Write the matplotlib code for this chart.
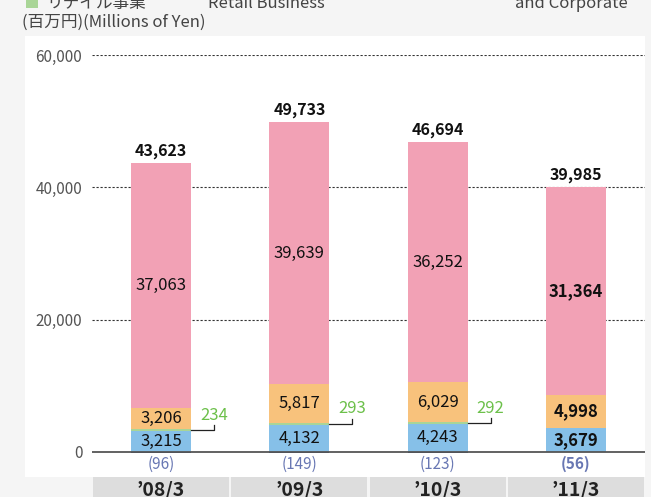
import numpy as np
import matplotlib
matplotlib.use('Agg')
import matplotlib.pyplot as plt
from matplotlib.patches import Rectangle

plt.rcParams['font.family'] = ['Noto Sans CJK JP', 'DejaVu Sans']

# данные
years = ["’08/3", "’09/3", "’10/3", "’11/3"]
adjust = [-96, -149, -123, -56]          # корректировки (отрицательные)
retail = [3215, 4132, 4243, 3679]        # синий
other = [234, 293, 292, 0]               # зелёный
finance = [3206, 5817, 6029, 4998]       # оранжевый
main_biz = [37063, 39639, 36252, 31364]  # розовый
totals = [43623, 49733, 46694, 39985]

W, H = 651, 497
fig = plt.figure(figsize=(W / 100, H / 100), dpi=100)
fig.patch.set_facecolor('#f5f5f5')

def fx(px):
    return px / W

def fy(py):
    return 1 - py / H

# белая панель
fig.patches.append(Rectangle((fx(25), fy(477)), fx(645) - fx(25), fy(36) - fy(477),
                             transform=fig.transFigure, facecolor='white', edgecolor='none', zorder=-10))

ax = fig.add_axes([fx(92), fy(477), fx(645) - fx(92), fy(55) - fy(477)])
ax.set_facecolor('none')
ax.set_xlim(-0.5, 3.5)
ax.set_ylim(-3788, 60000)

x = np.arange(len(years))
bw = 0.434
c_neg, c_blue, c_green, c_orange, c_pink = '#34487a', '#86c0e8', '#a9d597', '#f8c27c', '#f2a1b5'

for v in [20000, 40000, 60000]:
    ax.axhline(v, color='#333333', lw=0.8, ls=(0, (2, 1.6)), zorder=1)

retail_a = np.array(retail)
other_a = np.array(other)
fin_a = np.array(finance)
main_a = np.array(main_biz)

ax.bar(x, adjust, bw, color=c_neg, zorder=2)
ax.bar(x, retail_a, bw, color=c_blue, zorder=2)
ax.bar(x, other_a, bw, bottom=retail_a, color=c_green, zorder=2)
ax.bar(x, fin_a, bw, bottom=retail_a + other_a, color=c_orange, zorder=2)
ax.bar(x, main_a, bw, bottom=retail_a + other_a + fin_a, color=c_pink, zorder=2)
ax.axhline(0, color='#555555', lw=1.3, zorder=3)

px_unit = 20000 / 132  # значение на пиксель по вертикали

for i in range(len(years)):
    last = i == len(years) - 1
    fw = 'bold' if last else 'normal'
    ax.text(x[i], retail[i] / 2, f'{retail[i]:,}', ha='center', va='center', fontsize=12, fontweight=fw, color='#111111', zorder=4)
    b = retail[i] + other[i]
    ax.text(x[i], b + finance[i] / 2, f'{finance[i]:,}', ha='center', va='center', fontsize=12, fontweight=fw, color='#111111', zorder=4)
    b2 = b + finance[i]
    ax.text(x[i], b2 + main_biz[i] / 2, f'{main_biz[i]:,}', ha='center', va='center', fontsize=12, fontweight=fw, color='#111111', zorder=4)
    ax.text(x[i], totals[i] + 700, f'{totals[i]:,}', ha='center', va='bottom', fontsize=11.5, fontweight='bold', color='#111111', zorder=4)
    ax.text(x[i], -1800, f'({-adjust[i]})', ha='center', va='center', fontsize=11, fontweight=fw, color='#6877b3', zorder=4)
    if other[i] > 0:
        yb = retail[i] + other[i] / 2
        x0, x1 = x[i] + bw / 2, x[i] + 0.383
        ax.plot([x0, x1, x1], [yb, yb, yb + 750], color='#222222', lw=0.9, zorder=4)
        ax.text(x1, yb + 950, f'{other[i]:,}', ha='center', va='bottom', fontsize=12, color='#6cc04a', zorder=4)
    # подписи годов
    ax.add_patch(Rectangle((i - 0.5 + 0.008, -3788 - 20 * px_unit), 0.984, 20 * px_unit,
                           facecolor='#dddddd', edgecolor='none', clip_on=False, zorder=1))
    ax.text(x[i], -3788 - 13 * px_unit, years[i], ha='center', va='center', fontsize=14, fontweight='bold', color='#222222', clip_on=False)

ax.set_yticks([0, 20000, 40000, 60000])
ax.set_yticklabels(['0', '20,000', '40,000', '60,000'])
ax.tick_params(axis='y', length=0, pad=7, labelsize=11, labelcolor='#555555')
ax.set_xticks([])
for s in ax.spines.values():
    s.set_visible(False)

# верхние надписи (обрезаны, как в оригинале)
fig.patches.append(Rectangle((fx(26), fy(8)), fx(12), fy(0) - fy(8) + 0.02,
                             transform=fig.transFigure, facecolor='#a9d597', edgecolor='none'))
fig.text(fx(46), fy(8), 'リテイル事業', fontsize=12, color='#444444', va='baseline')
fig.text(fx(208), fy(8), 'Retail Business', fontsize=12, color='#444444', va='baseline')
fig.text(fx(515), fy(8), 'and Corporate', fontsize=12, color='#444444', va='baseline')
fig.text(fx(22), fy(22), '(百万円)(Millions of Yen)', fontsize=12, color='#444444', va='center')

fig.savefig('out.png', dpi=100, facecolor=fig.get_facecolor())
